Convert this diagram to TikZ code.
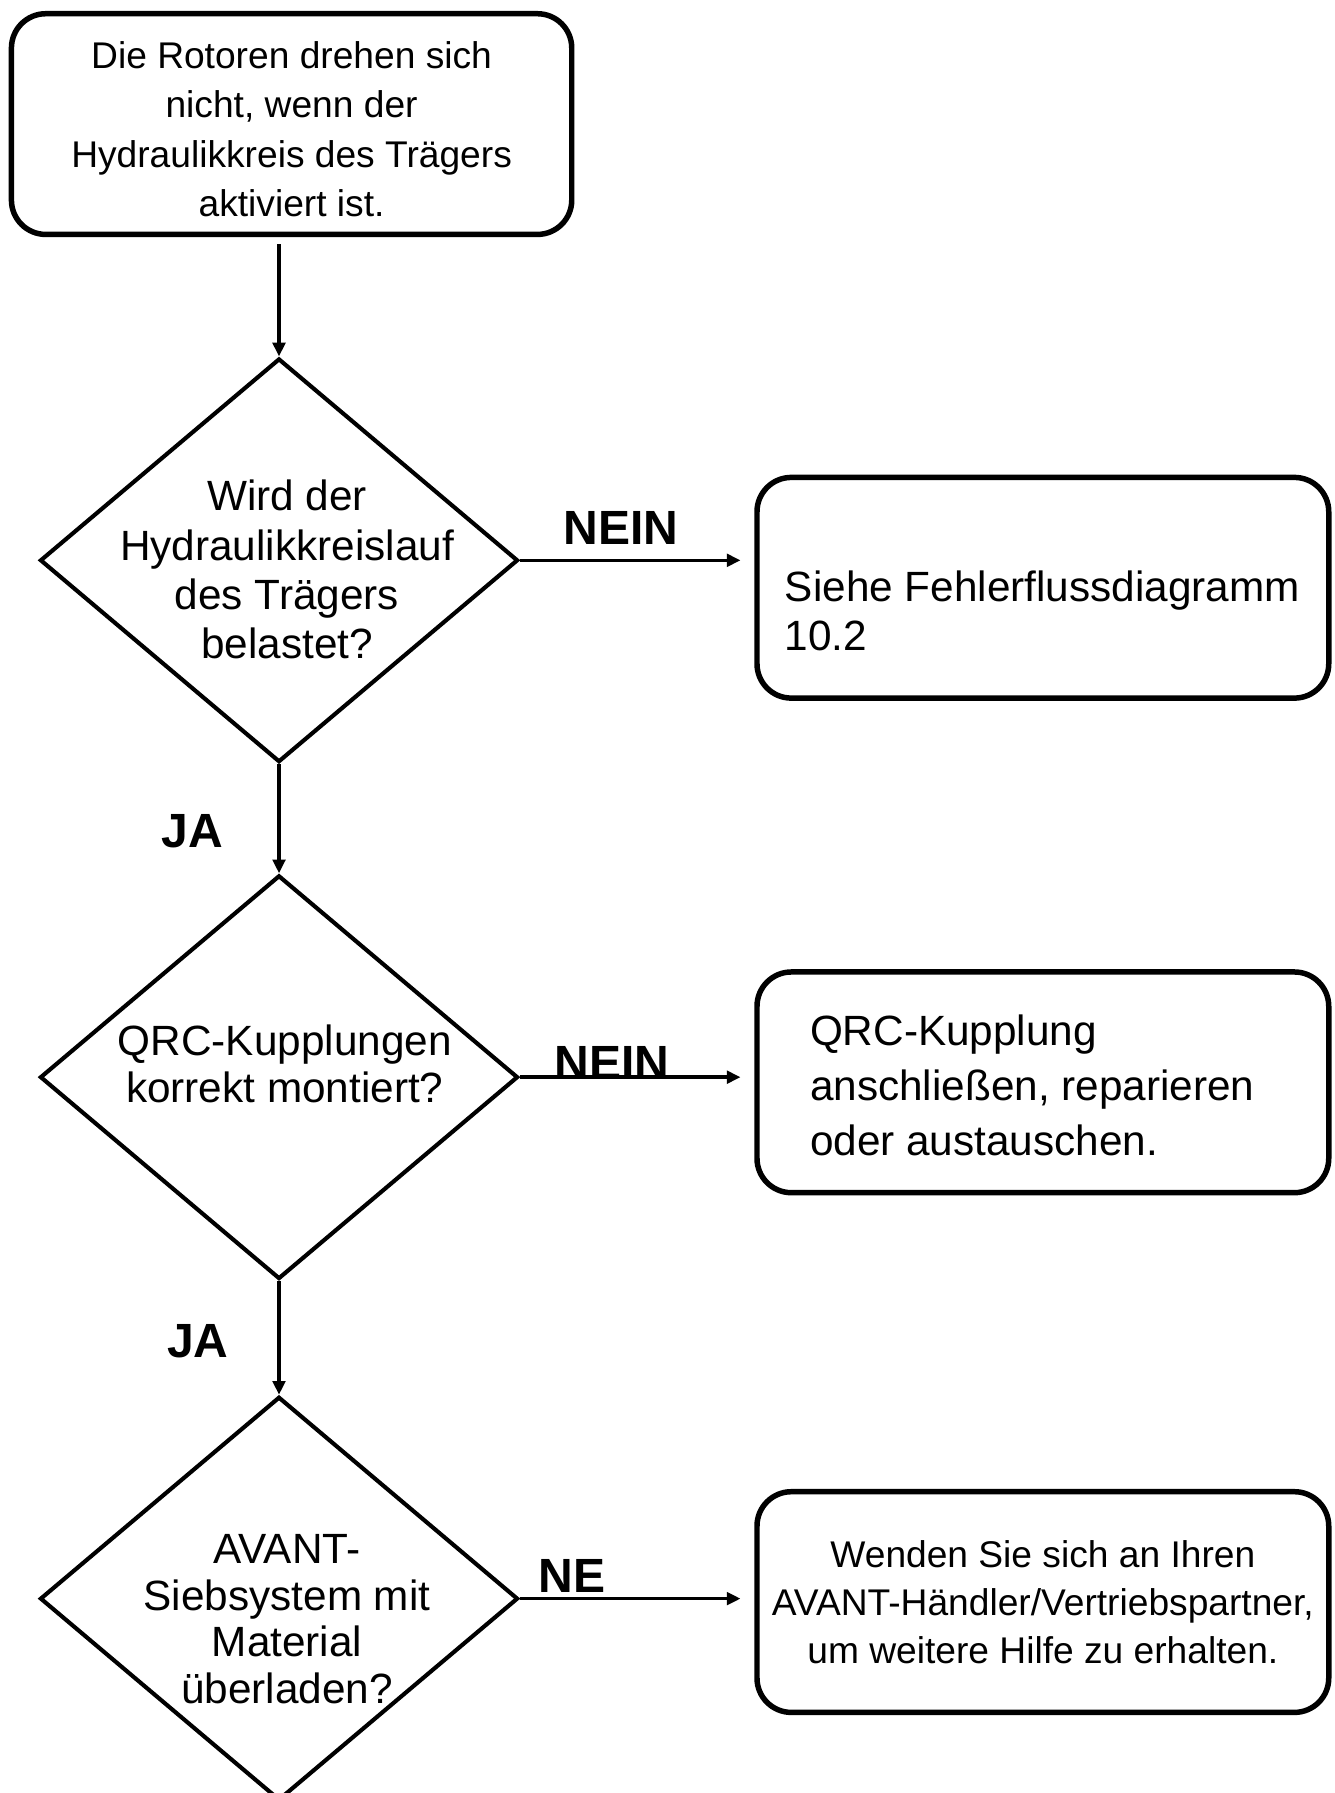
\documentclass[tikz,border=0pt]{standalone}
\usepackage{fontspec}
\setmainfont{Liberation Sans}
\usetikzlibrary{arrows.meta,positioning,shapes.geometric}
\tikzset{
  box/.style={rounded corners=15pt,draw=black,line width=2.4pt,
              minimum width=250pt,minimum height=96.5pt,inner sep=0pt,align=center},
  dia/.style={diamond,draw=black,line width=1.8pt,minimum width=209pt,
              minimum height=176.5pt,inner sep=0pt},
  bigtxt/.style={inner sep=0pt,align=center,font=\fontsize{18.5}{21.5}\selectfont},
  smalltxt/.style={inner sep=0pt,align=center,font=\fontsize{16.25}{21.5}\selectfont},
  answer/.style={inner sep=0pt,font=\fontsize{21}{24}\selectfont\bfseries},
  flow/.style={-{Triangle[length=6pt,width=5.5pt]},line width=1.5pt},
}
\begin{document}
\begin{tikzpicture}[x=0.5pt,y=-0.5pt]
  \useasboundingbox (0,0) rectangle (1167,1568);
  % start
  \node[box,minimum width=245pt](start) at (255,108.5){};
  \node[smalltxt](startt) at (255,113){Die Rotoren drehen sich\\nicht, wenn der\\Hydraulikkreis des Trägers\\aktiviert ist.};
  % questions
  \node[dia](q1) at (244,490){};
  \node[bigtxt](q1t) at (251,498){Wird der\\Hydraulikkreislauf\\des Trägers\\belastet?};
  \node[dia](q2) at (244,942){};
  \node[bigtxt,font=\fontsize{18.5}{20.5}\selectfont](q2t) at (249,930){QRC-Kupplungen\\korrekt montiert?};
  \node[dia](q3) at (244,1398){};
  \node[bigtxt,font=\fontsize{18.5}{20.3}\selectfont](q3t) at (251,1416){AVANT-\\Siebsystem mit\\Material\\überladen?};
  % actions
  \node[box](a1) at (912,514){};
  \node[bigtxt,align=left,anchor=west](a1t) at (686,534){Siehe Fehlerflussdiagramm\\10.2};
  \node[box](a2) at (912,946.5){};
  \node[bigtxt,align=left,anchor=west,font=\fontsize{18.5}{24}\selectfont](a2t) at (708,949){QRC-Kupplung\\anschließen, reparieren\\oder austauschen.};
  \node[box,font=\fontsize{16.25}{21}\selectfont](a3) at (912,1401){Wenden Sie sich an Ihren\\AVANT-Händler/Vertriebspartner,\\um weitere Hilfe zu erhalten.};
  % answers
  \node[answer](n1) at (543,462){NEIN};
  \node[answer](n2) at (535,930){NEIN};
  \node[answer](n3) at (500,1378){NE};
  \node[answer](j1) at (168,727){JA};
  \node[answer](j2) at (173,1173){JA};
  % connectors
  \draw[flow,shorten <=3pt](start.south -| q1.north)--(q1.north);
  \draw[flow](q1.south)--(q2.north);\draw[flow](q2.south)--(q3.north);
  \draw[flow,shorten >=6pt](q1.east)--(q1.east -| a1.west);
  \draw[flow,shorten >=6pt](q2.east)--(q2.east -| a2.west);
  \draw[flow,shorten >=6pt](q3.east)--(q3.east -| a3.west);
\end{tikzpicture}
\end{document}
